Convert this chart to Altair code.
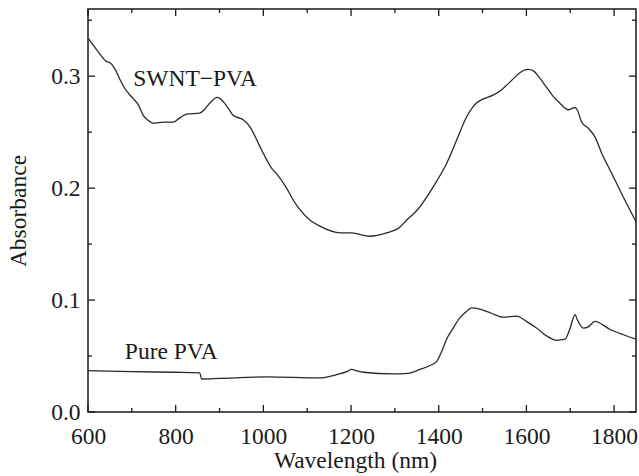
import altair as alt
import pandas as pd

# ---- data ----
swnt_wl = [600, 620, 643, 650, 662, 673, 684, 703, 715, 726, 738, 749, 772, 795, 810, 825,
           855, 867, 878, 895, 909, 920, 931, 954, 969, 985, 996, 1008, 1019, 1030, 1053,
           1068, 1083, 1106, 1129, 1175, 1201, 1243, 1281, 1311, 1327, 1350, 1395, 1418,
           1441, 1464, 1479, 1486, 1502, 1524, 1543, 1555, 1570, 1585, 1604, 1616, 1631,
           1646, 1661, 1676, 1696, 1703, 1711, 1716, 1726, 1741, 1756, 1772, 1791, 1821, 1850]
swnt_abs = [0.334, 0.3235, 0.313, 0.312, 0.306, 0.297, 0.289, 0.280, 0.2743, 0.265, 0.2603,
            0.258, 0.259, 0.259, 0.263, 0.266, 0.267, 0.2708, 0.276, 0.281, 0.277, 0.2714,
            0.265, 0.261, 0.255, 0.243, 0.234, 0.225, 0.2177, 0.213, 0.200, 0.1894, 0.181,
            0.1715, 0.166, 0.160, 0.160, 0.157, 0.160, 0.165, 0.1715, 0.180, 0.206, 0.222,
            0.243, 0.264, 0.273, 0.276, 0.2797, 0.283, 0.2877, 0.292, 0.2976, 0.303, 0.306,
            0.3047, 0.298, 0.290, 0.282, 0.276, 0.270, 0.271, 0.272, 0.270, 0.259, 0.2535,
            0.246, 0.231, 0.216, 0.192, 0.170]

pva_wl = [600, 700, 800, 855, 859, 900, 1008, 1129, 1167, 1190, 1201, 1215, 1228, 1296,
          1330, 1357, 1380, 1395, 1407, 1418, 1433, 1448, 1464, 1475, 1494, 1521, 1547,
          1577, 1600, 1623, 1646, 1669, 1688, 1699, 1711, 1716, 1730, 1741, 1756, 1791,
          1821, 1850]
pva_abs = [0.037, 0.036, 0.0355, 0.035, 0.0295, 0.030, 0.0313, 0.0304, 0.0334, 0.036, 0.038,
           0.0365, 0.0355, 0.034, 0.0345, 0.038, 0.0415, 0.045, 0.0543, 0.065, 0.075, 0.084,
           0.090, 0.093, 0.092, 0.088, 0.0847, 0.0856, 0.081, 0.0751, 0.068, 0.064, 0.065,
           0.074, 0.087, 0.0826, 0.075, 0.076, 0.081, 0.0737, 0.069, 0.065]

series_names = ["SWNT\u2212PVA", "Pure PVA"]
label_wl = [703, 684]
label_abs = [0.2913, 0.0474]

x_major = [600, 800, 1000, 1200, 1400, 1600, 1800]
x_minor = [700, 900, 1100, 1300, 1500, 1700]
y_major = [0.0, 0.1, 0.2, 0.3]
y_minor = [0.05, 0.15, 0.25, 0.35]

# ---- styling ----
FONT = "Liberation Serif"
FS = 23.5
INK = "#1a1a1a"
W, H = 548, 403
MAJ, MIN = 7, 4

df = pd.concat([
    pd.DataFrame({"wavelength": swnt_wl, "absorbance": swnt_abs, "series": series_names[0]}),
    pd.DataFrame({"wavelength": pva_wl, "absorbance": pva_abs, "series": series_names[1]}),
])
labels_df = pd.DataFrame({"wavelength": label_wl, "absorbance": label_abs, "text": series_names})

xs = alt.Scale(domain=[600, 1850], nice=False, zero=False)
ys = alt.Scale(domain=[0, 0.36], nice=False, zero=False)

x_axis = alt.Axis(
    values=x_major, format="d", title="Wavelength (nm)", ticks=False, domain=False, grid=False,
    labelFont=FONT, labelFontSize=FS, labelColor=INK, labelPadding=12, labelFlush=False,
    titleFont=FONT, titleFontSize=FS, titleFontWeight="normal", titleColor=INK,
    titleBaseline="alphabetic", titleX=267, titleY=55.5)
y_axis = alt.Axis(
    values=y_major, format=".1f", title="Absorbance", ticks=False, domain=False, grid=False,
    labelFont=FONT, labelFontSize=FS, labelColor=INK, labelPadding=8, labelFlush=False,
    titleFont=FONT, titleFontSize=FS, titleFontWeight="normal", titleColor=INK,
    titleBaseline="alphabetic", titleX=-63, titleY=H / 2)

X = alt.X("wavelength:Q", scale=xs, axis=x_axis)
Y = alt.Y("absorbance:Q", scale=ys, axis=y_axis)

lines = alt.Chart(df).mark_line(color="#2a2a2a", strokeWidth=1.3, interpolate="monotone").encode(
    x=X, y=Y, detail="series:N",
)

texts = alt.Chart(labels_df).mark_text(
    font=FONT, fontSize=FS, align="left", baseline="alphabetic", color=INK
).encode(x=X, y=Y, text="text:N")


def xticks(vals, length):
    d = pd.DataFrame({"wavelength": vals})
    base = alt.Chart(d).mark_rule(color=INK, strokeWidth=1.3)
    bottom = base.encode(x=X, y=alt.value(H), y2=alt.value(H - length))
    top = base.encode(x=X, y=alt.value(0), y2=alt.value(length))
    return [bottom, top]


def yticks(vals, length):
    d = pd.DataFrame({"absorbance": vals})
    base = alt.Chart(d).mark_rule(color=INK, strokeWidth=1.3)
    left = base.encode(y=Y, x=alt.value(0), x2=alt.value(length))
    right = base.encode(y=Y, x=alt.value(W), x2=alt.value(W - length))
    return [left, right]


tick_layers = xticks(x_major, MAJ) + xticks(x_minor, MIN) + yticks(y_major, MAJ) + yticks(y_minor, MIN)

chart = alt.layer(lines, texts, *tick_layers).properties(
    width=W, height=H,
    padding={"left": 88, "top": 9, "right": 3, "bottom": 64},
    autosize=alt.AutoSizeParams(type="none"),
    background="white",
).configure_view(stroke=INK, strokeWidth=1.5)

chart.save("out.html", embed_options={"renderer": "svg", "actions": False})
